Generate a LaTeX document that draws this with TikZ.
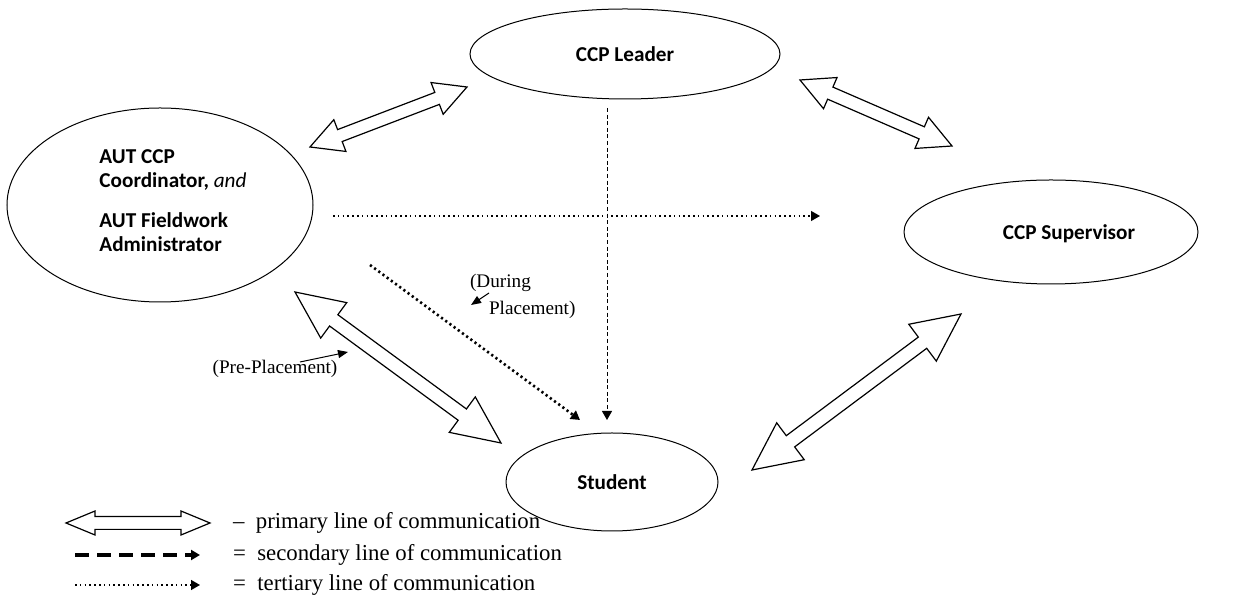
\documentclass[tikz,border=0pt]{standalone}
\usepackage{fontspec}
\setmainfont{Liberation Serif}
\newfontfamily\carlito{Carlito}
\usetikzlibrary{shapes.geometric,arrows.meta,calc}
% #1,#2 tips, #3 head length, #4 half head width, #5 half shaft width
\newcommand{\dblarrow}[5]{%
  \coordinate (p) at ($(#1)!#3!(#2)$);
  \coordinate (q) at ($(#2)!#3!(#1)$);
  \draw[primary] (#1) -- ($(p)!#4!90:(#2)$) -- ($(p)!#5!90:(#2)$)
    -- ($(q)!#5!-90:(#1)$) -- ($(q)!#4!-90:(#1)$) -- (#2)
    -- ($(q)!#4!90:(#1)$) -- ($(q)!#5!90:(#1)$)
    -- ($(p)!#5!-90:(#2)$) -- ($(p)!#4!-90:(#2)$) -- cycle;}
\begin{document}
\begin{tikzpicture}[x=0.5pt,y=-0.5pt,
    party/.style={draw,ellipse,line width=0.5pt,inner sep=0pt,font=\carlito\bfseries\fontsize{10.6}{12}\selectfont},
    partytext/.style={font=\carlito\bfseries\fontsize{10.6}{12}\selectfont},
    primary/.style={draw,fill=white,line width=0.6pt,line join=miter},
    secondary/.style={dash pattern=on 2pt off 1.3pt,line width=0.5pt,-{Triangle[length=4.5pt,width=5pt]}},
    tertiary/.style={dash pattern=on 0.8pt off 1.6pt,line width=0.8pt,-{Triangle[length=4.5pt,width=5pt]}},
    note/.style={font=\fontsize{9.6}{11}\selectfont},
    key/.style={anchor=west,font=\fontsize{11.4}{13}\selectfont}]
\useasboundingbox (0,0) rectangle (1238,597);

\node[party,minimum width=155pt,minimum height=45pt] (leader) at (625,54) {CCP Leader};
\node[party,minimum width=153pt,minimum height=97pt] (aut) at (160,205) {};
\node[partytext,align=left] (auttext) at (173,201) {AUT CCP\\Coordinator, {\mdseries\itshape and}\\[8pt]AUT Fieldwork\\Administrator};
\node[party,minimum width=147pt,minimum height=52pt] (sup) at (1051,232) {};
\node[partytext] (suptext) at (1069,234) {CCP Supervisor};
\node[party,minimum width=106pt,minimum height=49pt] (stu) at (612,482) {Student};

\coordinate (a1) at (310,147); \coordinate (a2) at (467,87);
\coordinate (b1) at (800,80);  \coordinate (b2) at (952,146);
\coordinate (c1) at (295,292); \coordinate (c2) at (501,443);
\coordinate (d1) at (961,314); \coordinate (d2) at (752,470);
\dblarrow{a1}{a2}{16pt}{8.5pt}{3.2pt}
\dblarrow{b1}{b2}{16.5pt}{8.5pt}{3.3pt}
\dblarrow{c1}{c2}{24pt}{11pt}{3.5pt}
\dblarrow{d1}{d2}{24pt}{11.5pt}{3.5pt}

\coordinate (s1) at (607,108); \coordinate (s2) at (607,420);
\draw[secondary] (s1) -- (s2);
\coordinate (t1) at (333,216); \coordinate (t2) at (820,216);
\draw[tertiary,line width=0.6pt] (t1) -- (t2);
\coordinate (t3) at (370,265); \coordinate (t4) at (580,420);
\draw[tertiary,line width=1.3pt,dash pattern=on 1.1pt off 1.5pt] (t3) -- (t4);

\node[note,anchor=west] (during) at (463,283) {(During};
\node[note,anchor=west] (placement) at (482,310) {Placement)};
\coordinate (n1) at (489,293); \coordinate (n2) at (471,305);
\draw[line width=0.5pt,-{Triangle[length=5pt,width=4pt]}] (n1) -- (n2);
\node[note] (pre) at (275,369) {(Pre-Placement)};
\coordinate (n3) at (300,362); \coordinate (n4) at (348,352);
\draw[line width=0.5pt,-{Triangle[length=5pt,width=4pt]}] (n3) -- (n4);

\coordinate (k1) at (66,523); \coordinate (k2) at (210,523);
\dblarrow{k1}{k2}{14.5pt}{6pt}{3.2pt}
\node[key] (prim) at (226,523) {–\ \ primary line of communication};
\coordinate (k3) at (75,555); \coordinate (k4) at (200,555);
\draw[line width=1.6pt,dash pattern=on 7pt off 4pt,-{Triangle[length=4.5pt,width=5pt]}] (k3) -- (k4);
\node[key] (sec) at (226,555) {=\ \ secondary line of communication};
\coordinate (k5) at (75,585); \coordinate (k6) at (200,585);
\draw[tertiary,line width=0.7pt] (k5) -- (k6);
\node[key] (ter) at (226,585) {=\ \ tertiary line of communication};
\end{tikzpicture}
\end{document}
